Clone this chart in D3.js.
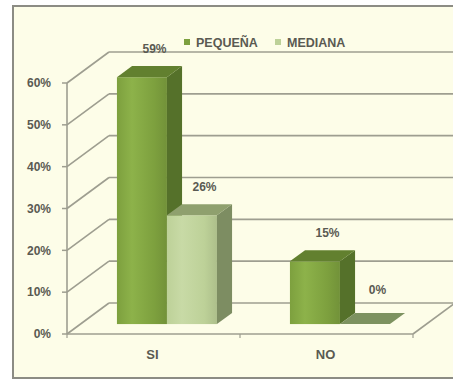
<!DOCTYPE html>
<html>
<head>
<meta charset="utf-8">
<script src="https://cdn.jsdelivr.net/npm/d3@7"></script>
<style>
  html, body { margin: 0; padding: 0; background: #ffffff; }
  svg { display: block; }
  text { font-family: "Liberation Sans", Arial, sans-serif; fill: #5a5a52; font-weight: bold; }
</style>
</head>
<body>
<svg id="chart" width="453" height="381"></svg>
<script>
// Data
const categories = ["SI", "NO"];
const seriesNames = ["PEQUEÑA", "MEDIANA"];
const pequena = [0.59, 0.15];
const mediana = [0.26, 0.00];
const yTicks = [0, 0.1, 0.2, 0.3, 0.4, 0.5, 0.6];

const seriesValues = [pequena, mediana];

// Face colours for each series: front, side, top
const palette = [
  { front: "#7da03e", light: "#8db24a", side: "#55712a", top: "#62802f", key: "#7da03e" },
  { front: "#bdd198", light: "#c8daa6", side: "#7d8d62", top: "#8fa06e", key: "#bdd198" }
];

const svg = d3.select("#chart");

// Outer frame
svg.append("rect")
  .attr("x", 13).attr("y", 6).attr("width", 452).attr("height", 372)
  .attr("fill", "#fdfde8").attr("stroke", "#8c8c84").attr("stroke-width", 2);

// Oblique 3D projection: depth vector points up and to the right
const depth = { x: 42, y: -31 };
const x0 = 67, x1 = 413;

const x = d3.scaleBand().domain(categories).range([x0, x1]).paddingInner(0).paddingOuter(0);
const xs = d3.scaleBand().domain(seriesNames).range([0, x.bandwidth()]).paddingInner(0).paddingOuter(0.73);
const y = d3.scaleLinear().domain([0, 0.6]).range([334, 83]);

const g = svg.append("g");
const gridColor = "#9e9e90";

// Walls: left wall diagonals + back wall horizontal gridlines
yTicks.forEach(t => {
  const yy = y(t);
  g.append("line")
    .attr("x1", x0).attr("y1", yy)
    .attr("x2", x0 + depth.x).attr("y2", yy + depth.y)
    .attr("stroke", gridColor).attr("stroke-width", 1.6);
  g.append("line")
    .attr("x1", x0 + depth.x).attr("y1", yy + depth.y)
    .attr("x2", x1 + depth.x + 10).attr("y2", yy + depth.y)
    .attr("stroke", gridColor).attr("stroke-width", 1.6);
});

// Floor: front edge and right edge
g.append("line")
  .attr("x1", x0).attr("y1", y(0)).attr("x2", x1).attr("y2", y(0))
  .attr("stroke", gridColor).attr("stroke-width", 1.6);
g.append("line")
  .attr("x1", x1).attr("y1", y(0))
  .attr("x2", x1 + depth.x).attr("y2", y(0) + depth.y)
  .attr("stroke", gridColor).attr("stroke-width", 1.6);

// Vertical value axis with tick marks
g.append("line")
  .attr("x1", x0).attr("y1", y(0.6)).attr("x2", x0).attr("y2", y(0))
  .attr("stroke", gridColor).attr("stroke-width", 1.6);
yTicks.forEach(t => {
  g.append("line")
    .attr("x1", x0 - 5).attr("y1", y(t)).attr("x2", x0).attr("y2", y(t))
    .attr("stroke", gridColor).attr("stroke-width", 1.5);
});
const fmt = d3.format(".0%");
g.selectAll(".ytick").data(yTicks).join("text")
  .attr("class", "ytick")
  .attr("x", 51).attr("y", d => y(d))
  .attr("dy", "0.35em")
  .attr("text-anchor", "end")
  .attr("font-size", 12)
  .text(d => fmt(d));

// Category boundary ticks on the floor's front edge
[x0, x0 + x.bandwidth(), x1].forEach(px => {
  g.append("line")
    .attr("x1", px).attr("y1", y(0)).attr("x2", px).attr("y2", y(0) + 4)
    .attr("stroke", gridColor).attr("stroke-width", 1.2);
});

// Category labels
g.selectAll(".xlab").data(categories).join("text")
  .attr("class", "xlab")
  .attr("x", d => x(d) + x.bandwidth() / 2 - 1)
  .attr("y", 359)
  .attr("text-anchor", "middle")
  .attr("font-size", 13)
  .text(d => d);

// Gradients for bar fronts
const defs = svg.append("defs");
palette.forEach((p, i) => {
  const lg = defs.append("linearGradient").attr("id", "front" + i)
    .attr("x1", "0%").attr("x2", "100%").attr("y1", "0%").attr("y2", "0%");
  lg.append("stop").attr("offset", "0%").attr("stop-color", p.front);
  lg.append("stop").attr("offset", "30%").attr("stop-color", p.light);
  lg.append("stop").attr("offset", "75%").attr("stop-color", p.front);
  lg.append("stop").attr("offset", "100%").attr("stop-color", d3.color(p.front).darker(0.25));
});

// 3D bars, drawn left to right so later bars cover earlier side faces
const dNear = 0.32, dFar = 0.68;
const bars = g.append("g");
categories.forEach((cat, ci) => {
  seriesNames.forEach((s, si) => {
    const v = seriesValues[si][ci];
    const p = palette[si];
    const lx = x(cat) + xs(s) + depth.x * dNear;
    const rx = lx + xs.bandwidth();
    const by = y(0) + depth.y * dNear;
    const ty = y(v) + depth.y * dNear;
    const ox = depth.x * (dFar - dNear), oy = depth.y * (dFar - dNear);
    const pts = a => a.map(q => q.join(",")).join(" ");
    if (v > 0) {
      // front face
      bars.append("rect")
        .attr("x", lx).attr("y", ty).attr("width", rx - lx).attr("height", by - ty)
        .attr("fill", `url(#front${si})`);
      // right side face
      bars.append("polygon")
        .attr("points", pts([[rx, ty], [rx + ox, ty + oy], [rx + ox, by + oy], [rx, by]]))
        .attr("fill", p.side);
    }
    // top face
    bars.append("polygon")
      .attr("points", pts([[lx, ty], [lx + ox, ty + oy], [rx + ox, ty + oy], [rx, ty]]))
      .attr("fill", v > 0 ? p.top : "#7d9260");

    // value label
    g.append("text")
      .attr("x", x(cat) + xs(s) + xs.bandwidth() / 2 + 26)
      .attr("y", y(v) - (v > 0 ? 38 : 44))
      .attr("dy", "0.35em")
      .attr("text-anchor", "middle")
      .attr("font-size", 12)
      .text(fmt(v));
  });
});

// Legend
const legend = svg.append("g").attr("transform", "translate(184,42)");
const legendItems = [
  { name: seriesNames[0], color: palette[0].key, x: 0 },
  { name: seriesNames[1], color: palette[1].key, x: 91 }
];
legendItems.forEach(it => {
  legend.append("rect")
    .attr("x", it.x).attr("y", -3).attr("width", 6).attr("height", 6)
    .attr("fill", it.color);
  legend.append("text")
    .attr("x", it.x + 12).attr("y", 0).attr("dy", "0.36em")
    .attr("font-size", 12.5)
    .text(it.name);
});
</script>
</body>
</html>
